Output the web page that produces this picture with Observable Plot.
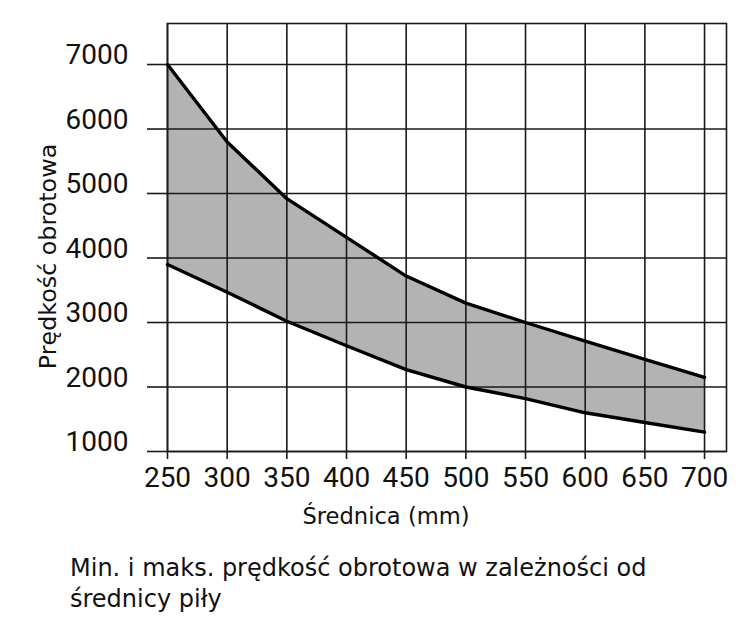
<!DOCTYPE html>
<html><head><meta charset="utf-8">
<script src="https://cdn.jsdelivr.net/npm/d3@7"></script>
<script src="https://cdn.jsdelivr.net/npm/@observablehq/plot@0.6"></script>
<style>
body{margin:0;background:#fff;font-family:"DejaVu Sans",sans-serif;}
#chart{position:absolute;left:0;top:0;}
#caption{position:absolute;left:70px;top:553px;font-family:"DejaVu Sans",sans-serif;font-size:24px;line-height:31px;color:#111;white-space:nowrap;}
</style></head><body>
<div id="chart"></div>
<div id="caption">Min. i maks. prędkość obrotowa w zależności od<br>średnicy piły</div>
<script>
const diameters = [250, 300, 350, 400, 450, 500, 550, 600, 650, 700];
const maxSpeed = [7000, 5800, 4920, 4320, 3720, 3300, 3000, 2710, 2430, 2150];
const minSpeed = [3900, 3470, 3020, 2640, 2270, 2000, 1820, 1600, 1450, 1300];
const speedTicks = [1000, 2000, 3000, 4000, 5000, 6000, 7000];
const xLabel = "Średnica (mm)";
const yLabel = "Prędkość obrotowa";

const rows = diameters.map((d, i) => ({d, min: minSpeed[i], max: maxSpeed[i]}));
const gridColor = "#1a1a1a";
const digitFont = "Roboto, 'Liberation Sans', sans-serif";
const textFont = "'DejaVu Sans', sans-serif";

const plot = Plot.plot({
  width: 750, height: 540,
  marginLeft: 167, marginRight: 24, marginTop: 23, marginBottom: 89,
  style: {fontFamily: digitFont, fontSize: "28px", color: "#111", background: "transparent", overflow: "visible"},
  x: {domain: [250, 718.4]},
  y: {domain: [1000, 7636]},
  marks: [
    Plot.areaY(rows, {x: "d", y1: "min", y2: "max", fill: "#b3b3b3"}),
    Plot.gridX(diameters, {stroke: gridColor, strokeOpacity: 1, strokeWidth: 1.6}),
    Plot.gridY(speedTicks, {stroke: gridColor, strokeOpacity: 1, strokeWidth: 1.6}),
    Plot.frame({stroke: gridColor, strokeWidth: 1.6}),
    Plot.axisX(diameters, {tickSize: 8, tickPadding: 8, strokeWidth: 1.6, stroke: gridColor, label: null, tickFormat: d => String(d), fontSize: 28}),
    Plot.axisY(speedTicks, {tickSize: 20, strokeWidth: 1.6, stroke: gridColor, label: null, tickFormat: () => ""}),
    Plot.axisY(speedTicks, {tickSize: 0, tickPadding: 39, dy: -9, label: null, tickFormat: d => String(d), fontSize: 28}),
    Plot.line(rows, {x: "d", y: "max", stroke: "#000", strokeWidth: 3.4}),
    Plot.line(rows, {x: "d", y: "min", stroke: "#000", strokeWidth: 3.4}),
    Plot.text([xLabel], {text: d => d, frameAnchor: "bottom", dx: -61, dy: 72, lineAnchor: "bottom", textAnchor: "middle", fontSize: 22.6, fontFamily: textFont, fill: "#111"}),
    Plot.text([yLabel], {text: d => d, frameAnchor: "left", rotate: -90, dx: -112, dy: 19, lineAnchor: "bottom", textAnchor: "middle", fontSize: 23.8, fontFamily: textFont, fill: "#111"})
  ]
});
document.getElementById("chart").appendChild(plot);
</script>
</body></html>
